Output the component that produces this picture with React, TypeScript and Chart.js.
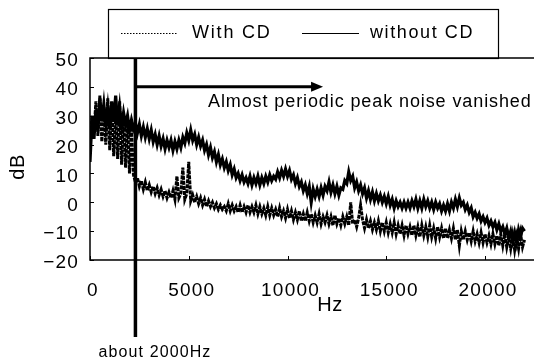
import { useEffect, useRef } from "react";
import { Chart, registerables } from "chart.js";

Chart.register(...registerables);

// Sampling grid of the spectra (Hz between successive values)
const STEP_HZ = 100;

// Upper band: without CD (solid), dB, one value per 100 Hz from 0 to 22000 Hz
const withoutCD = [
  14, 29, 22, 32, 25, 36, 28, 34, 27, 33,
  26, 35, 28, 37, 27, 33, 26, 31, 27, 30,
  25, 28.5, 25.5, 27.5, 24, 27, 23, 26, 22.5, 25.5,
  22, 25, 21, 23.5, 20, 23, 19.5, 22, 18.5, 21.5,
  19, 21.5, 18, 21, 18.5, 21.5, 19, 22.5, 20.5, 24,
  21.5, 25, 21.5, 23.5, 20, 22.5, 19.5, 21.5, 18, 20,
  16.5, 19, 15.5, 17.5, 14, 16.5, 13, 15, 12, 14,
  11, 13, 9.5, 11.5, 8.5, 10, 7.5, 9.5, 7, 8.5,
  6.5, 9, 6, 8.5, 6.5, 9, 6, 8.5, 6.5, 9,
  7, 9.5, 7.5, 9, 8, 10.5, 8.5, 11, 9, 11.5,
  9, 11, 8, 9.5, 6.5, 8.5, 5.5, 7, 4, 6,
  3, 5.5, 0, 4.5, 2, 4.5, 2, 5, 2.5, 5.5,
  4, 7, 3.5, 6, 3, 5.5, 2.5, 5, 4.5, 7.5,
  6.5, 10.5, 7.5, 9, 5, 7, 4, 6, 3, 5,
  1.5, 4, 1, 3.5, 0.5, 3, 0.5, 2.5, 0, 2,
  -0.5, 2, -1, 1, -2, 0.5, -1.5, 0, -2, 0,
  -2, 0, -2, 0.5, -1.5, 1, -2, 0.5, -2, 1,
  -1.5, 0.5, -2, 0, -2.5, 0, -2, -0.5, -3, -1,
  -3, -0.5, -3, 0, -2, 1, -1.5, 1.5, -1, 0,
  -2.5, -1, -3.5, -2, -5, -3.5, -5.5, -4, -6.5, -5,
  -7, -5.5, -8, -6.5, -8.5, -7, -9.5, -7.5, -10, -8.5,
  -11, -9, -12.5, -10, -13.5, -10.5, -14, -9.5, -12, -9,
  -10,
];

// Lower band: with CD (dotted), dB, one value per 100 Hz from 0 to 22000 Hz
const withCD = [
  20, 30, 24, 35, 23, 37, 21, 33, 20, 36,
  18, 34, 16, 31, 15, 35, 13, 30, 12, 28,
  10, 26, 9.5, 7, 8.5, 5.5, 7.5, 4.5, 7, 4,
  6, 3.5, 5.5, 3, 5, 2.5, 4.5, 2, 4, 1.5,
  3.5, 1.5, 4, 1, 9, 1.5, 3, 12, 1, 3,
  14, 0.5, 2.5, 0, 2, -0.5, 1.5, -1, 1, -1.5,
  0.5, -1.5, 0, -2, -0.5, -2.5, -1, -2.5, -1.5, -3,
  -0.5, -3, -1, -3, -1.5, -3.5, -1, -3.5, -1.5, -3.5,
  -1, -3.5, -1.5, -3.5, -1, -4, -1.5, -4, -2, -4.5,
  -1.5, -4.5, -2, -4.5, -2.5, -5, -2, -5, -3, -5.5,
  -2.5, -5.5, -3, -6, -3.5, -6, -3, -6.5, -4, -6.5,
  -3.5, -6.5, -4, -7, -4.5, -7, -4, -7.5, -5, -7,
  -4.5, -7.5, -5, -8, -4.5, -7.5, -5.5, -8, -5, -7.5,
  -5, -8, 0, -7.5, -6, -8.5, -5.5, -1, -6, -9,
  -6, -9, -6.5, -9.5, -7, -9.5, -6.5, -10, -7, -10,
  -7, -10.5, -7.5, -10.5, -7, -11, -8, -11, -8, -11.5,
  -8, -11, -8.5, -11.5, -8, -11.5, -8.5, -12, -8, -11.5,
  -8.5, -12, -8, -12, -9, -12.5, -8.5, -12, -9, -12.5,
  -9, -12.5, -9.5, -12.5, -9, -13, -9.5, -15, -10, -13,
  -10, -13, -10.5, -13.5, -10, -13.5, -11, -14, -10.5, -14,
  -11, -14, -11.5, -14.5, -11, -14.5, -11.5, -15, -11, -15,
  -11, -15.5, -12, -16, -11.5, -16.5, -12, -16, -11, -15.5,
  -13,
];

const SERIES_LABELS = ["With CD", "without CD"];
const X_TICKS = [0, 5000, 10000, 15000, 20000];
const Y_TICKS = [-20, -10, 0, 10, 20, 30, 40, 50];
const X_MIN = 0;
const X_MAX = 22480;
const Y_MIN = -20;
const Y_MAX = 50;
const X_TITLE = "Hz";
const Y_TITLE = "dB";
const MARK_HZ = 2300;
const MARK_LABEL = "about 2000Hz";
const ARROW_DB = 40;
const ARROW_END_HZ = 11800;
const ARROW_LABEL = "Almost periodic peak noise vanished";

const INK = "#000";
const FONT = '"Liberation Sans", Arial, sans-serif';

const toPoints = (vals: number[]) => vals.map((v, i) => ({ x: i * STEP_HZ, y: v }));

function drawText(
  ctx: CanvasRenderingContext2D,
  text: string,
  x: number,
  y: number,
  size: number,
  spacing: number,
  align: CanvasTextAlign,
) {
  ctx.save();
  ctx.font = `${size}px ${FONT}`;
  (ctx as any).letterSpacing = `${spacing}px`;
  ctx.textAlign = align;
  ctx.textBaseline = "middle";
  ctx.fillStyle = INK;
  ctx.fillText(text, x, y);
  ctx.restore();
}

const overlay = {
  id: "overlay",
  beforeDraw(chart: any) {
    (chart.ctx as any).letterSpacing = "1.2px";
  },
  afterDraw(chart: any) {
    const { ctx, chartArea: a, scales } = chart;
    const xs = scales.x;
    const ys = scales.y;
    ctx.save();
    ctx.strokeStyle = INK;
    ctx.fillStyle = INK;
    ctx.setLineDash([]);

    // plot frame (top, left, bottom)
    ctx.lineWidth = 1.5;
    ctx.beginPath();
    ctx.moveTo(a.right, a.top);
    ctx.lineTo(a.left, a.top);
    ctx.lineTo(a.left, a.bottom);
    ctx.lineTo(a.right, a.bottom);
    ctx.stroke();

    // inner tick marks
    ctx.lineWidth = 1;
    ctx.beginPath();
    for (const v of Y_TICKS) {
      const py = Math.round(ys.getPixelForValue(v)) + 0.5;
      ctx.moveTo(a.left, py);
      ctx.lineTo(a.left + 4, py);
    }
    for (const v of X_TICKS) {
      const px = Math.round(xs.getPixelForValue(v)) + 0.5;
      ctx.moveTo(px, a.bottom);
      ctx.lineTo(px, a.bottom - 4);
    }
    ctx.stroke();

    // marker line at about 2000 Hz
    const mx = xs.getPixelForValue(MARK_HZ);
    ctx.lineWidth = 3.5;
    ctx.beginPath();
    ctx.moveTo(mx, a.top);
    ctx.lineTo(mx, 337);
    ctx.stroke();

    // arrow
    const ay = ys.getPixelForValue(ARROW_DB);
    const ax = xs.getPixelForValue(ARROW_END_HZ);
    ctx.lineWidth = 3;
    ctx.beginPath();
    ctx.moveTo(mx, ay);
    ctx.lineTo(ax - 8, ay);
    ctx.stroke();
    ctx.beginPath();
    ctx.moveTo(ax, ay);
    ctx.lineTo(ax - 12, ay - 5);
    ctx.lineTo(ax - 12, ay + 5);
    ctx.closePath();
    ctx.fill();

    // legend
    ctx.lineWidth = 1.2;
    ctx.strokeRect(108.5, 9.5, 390, 49);
    ctx.lineWidth = 1;
    ctx.setLineDash([1.5, 1.5]);
    ctx.beginPath();
    ctx.moveTo(121, 33.5);
    ctx.lineTo(178, 33.5);
    ctx.stroke();
    ctx.setLineDash([]);
    ctx.beginPath();
    ctx.moveTo(302, 33.5);
    ctx.lineTo(359, 33.5);
    ctx.stroke();
    ctx.restore();

    drawText(ctx, SERIES_LABELS[0], 192, 33, 18, 1.8, "left");
    drawText(ctx, SERIES_LABELS[1], 370, 33, 18, 1.6, "left");

    // annotations
    drawText(ctx, ARROW_LABEL, 208, 102, 18, 0.9, "left");
    drawText(ctx, MARK_LABEL, 155, 353, 16, 1.1, "center");
    drawText(ctx, X_TITLE, 330, 305, 20, 0.5, "center");

    ctx.save();
    ctx.translate(18, 167);
    ctx.rotate(-Math.PI / 2);
    drawText(ctx, Y_TITLE, 0, 0, 20, 0.5, "center");
    ctx.restore();
  },
};

export default function App() {
  const ref = useRef<HTMLCanvasElement | null>(null);

  useEffect(() => {
    if (!ref.current) return;
    const chart = new Chart(ref.current, {
      type: "line",
      data: {
        datasets: [
          {
            label: SERIES_LABELS[1],
            data: toPoints(withoutCD),
            borderColor: INK,
            borderWidth: 3.2,
            pointRadius: 0,
            tension: 0,
          },
          {
            label: SERIES_LABELS[0],
            data: toPoints(withCD),
            borderColor: INK,
            borderWidth: 3,
            borderDash: [4, 1],
            pointRadius: 0,
            tension: 0,
          },
        ],
      },
      options: {
        responsive: false,
        animation: false,
        events: [],
        layout: { padding: { top: 58, right: 0, left: 0, bottom: 0 } },
        plugins: {
          legend: { display: false },
          tooltip: { enabled: false },
        },
        scales: {
          x: {
            type: "linear",
            min: X_MIN,
            max: X_MAX,
            grid: { display: false, drawTicks: false },
            border: { display: false },
            afterFit: (s: any) => {
              s.height = 103;
            },
            afterBuildTicks: (s: any) => {
              s.ticks = X_TICKS.map((v) => ({ value: v }));
            },
            ticks: {
              color: INK,
              font: { family: FONT, size: 19 },
              padding: 19,
              labelOffset: 3,
              maxRotation: 0,
              autoSkip: false,
              callback: (v: any) => String(v),
            },
          },
          y: {
            min: Y_MIN,
            max: Y_MAX,
            grid: { display: false, drawTicks: false },
            border: { display: false },
            afterFit: (s: any) => {
              s.width = 90;
            },
            afterBuildTicks: (s: any) => {
              s.ticks = Y_TICKS.map((v) => ({ value: v }));
            },
            ticks: {
              color: INK,
              font: { family: FONT, size: 19 },
              padding: 11,
              labelOffset: 3,
              autoSkip: false,
              callback: (v: any) => (Number(v) < 0 ? "\u2212" + Math.abs(Number(v)) : String(v)),
            },
          },
        },
      },
      plugins: [overlay],
    });
    return () => chart.destroy();
  }, []);

  return (
    <div style={{ position: "absolute", left: 0, top: 0, width: 534, height: 363, background: "#fff" }}>
      <canvas ref={ref} width={534} height={363} style={{ display: "block" }} />
    </div>
  );
}
